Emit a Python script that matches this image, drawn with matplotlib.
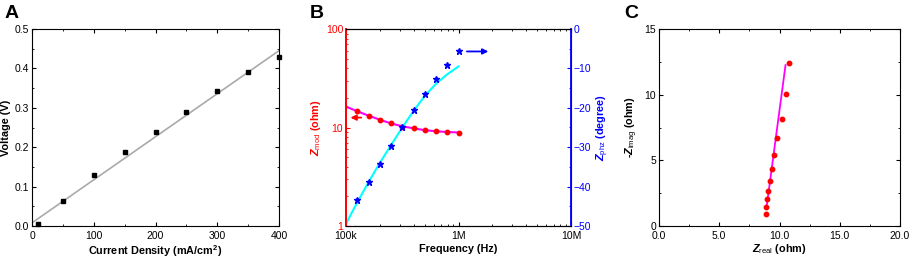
import numpy as np
import matplotlib
matplotlib.use("Agg")
from matplotlib import pyplot
from matplotlib.ticker import FixedLocator, NullFormatter

pyplot.rcParams['font.family'] = ['Liberation Sans', 'DejaVu Sans']
pyplot.rcParams['mathtext.fontset'] = 'custom'
pyplot.rcParams['mathtext.rm'] = 'Liberation Sans'
pyplot.rcParams['mathtext.bf'] = 'Liberation Sans:bold'
pyplot.rcParams['mathtext.it'] = 'Liberation Sans:bold:italic'

# panel A: polarization
current_density = [10, 50, 100, 150, 200, 250, 300, 350, 400]
voltage = [0.005, 0.063, 0.130, 0.187, 0.238, 0.290, 0.343, 0.390, 0.428]
fit_current = [0, 400]
fit_voltage = [0.008, 0.445]

# panel B: bode
freq = [10 ** 5.1, 10 ** 5.2, 10 ** 5.3, 10 ** 5.4, 10 ** 5.5,
        10 ** 5.6, 10 ** 5.7, 10 ** 5.8, 10 ** 5.9, 10 ** 6.0]
z_mod = [14.7, 13.1, 11.9, 11.0, 10.2, 9.8, 9.4, 9.2, 9.0, 8.85]
z_phz = [-43.5, -38.8, -34.3, -29.6, -25.0, -20.5, -16.6, -12.7, -9.1, -5.7]
fit_freq = [1e5] + freq
fit_mod = [16.3, 14.6, 13.2, 12.0, 11.0, 10.3, 9.8, 9.4, 9.15, 9.0, 8.9]
fit_phz = [-49.4, -44.0, -38.9, -34.0, -29.5, -25.0, -20.8, -17.0, -13.9, -11.5, -9.5]

# panel C: nyquist
z_real = [8.84, 8.86, 8.95, 9.06, 9.20, 9.36, 9.58, 9.83, 10.19, 10.53, 10.78]
z_imag = [0.89, 1.43, 2.04, 2.70, 3.46, 4.33, 5.42, 6.70, 8.17, 10.03, 12.38]
fit_real = [8.92, 10.50]
fit_imag = [1.40, 12.25]

W, H = 913, 260
fig = pyplot.figure(figsize=(W / 100, H / 100), dpi=100)


def make_ax(left, right, top=29, bottom=226):
    return fig.add_axes([left / W, 1 - bottom / H, (right - left) / W, (bottom - top) / H])


tick_fs = 7.5
label_fs = 7.8

# ---- A
ax = make_ax(32, 279)
ax.plot(fit_current, fit_voltage, color='#aaaaaa', lw=1.2, zorder=2)
ax.plot(current_density, voltage, 's', color='black', ms=2.8, zorder=3, clip_on=False)
ax.set_xlim(0, 400)
ax.set_ylim(0, 0.5)
ax.set_xticks([0, 100, 200, 300, 400])
ax.set_yticks([0.0, 0.1, 0.2, 0.3, 0.4, 0.5])
ax.set_yticklabels(['0.0', '0.1', '0.2', '0.3', '0.4', '0.5'])
ax.xaxis.set_minor_locator(FixedLocator([50, 150, 250, 350]))
ax.yaxis.set_minor_locator(FixedLocator([0.05, 0.15, 0.25, 0.35, 0.45]))
ax.tick_params(which='both', direction='in', top=True, right=True, labelsize=tick_fs, pad=2)
ax.tick_params(axis='x', pad=3.5)
ax.tick_params(which='major', length=3)
ax.tick_params(which='minor', length=1.5)
ax.set_xlabel('Current Density (mA/cm$^{\\mathbf{2}}$)', fontsize=label_fs, fontweight='bold', labelpad=2)
ax.set_ylabel('Voltage (V)', fontsize=label_fs, fontweight='bold', labelpad=3)
fig.text(5 / W, 1 - 14 / H, 'A', fontsize=14, fontweight='bold', va='center', ha='left')

# ---- B
ax = make_ax(346, 571)
ax2 = ax.twinx()
ax.plot(fit_freq, fit_mod, color='magenta', lw=1.5, zorder=2)
ax.plot(freq, z_mod, 'o', color='red', ms=3.2, zorder=3)
ax.set_xscale('log')
ax.set_yscale('log')
ax.set_xlim(1e5, 1e7)
ax.set_ylim(1, 100)
ax.set_xticks([1e5, 1e6, 1e7])
ax.set_xticklabels(['100k', '1M', '10M'])
ax.set_yticks([1, 10, 100])
ax.set_yticklabels(['1', '10', '100'])
ax.yaxis.set_minor_formatter(NullFormatter())
ax.xaxis.set_minor_formatter(NullFormatter())
ax.tick_params(which='both', direction='in', top=True, labelsize=tick_fs, pad=2)
ax.tick_params(axis='x', pad=3.5)
ax.tick_params(axis='y', which='both', colors='red')
ax.tick_params(which='major', length=3)
ax.tick_params(which='minor', length=1.5)
ax.spines['left'].set_color('red')
ax.spines['left'].set_linewidth(1.3)
ax.set_xlabel('Frequency (Hz)', fontsize=label_fs, fontweight='bold', labelpad=2)
ax.set_ylabel('$\\mathit{Z}_{\\mathrm{mod}}$ (ohm)', fontsize=label_fs, fontweight='bold', color='red', labelpad=2)
ax.annotate('', xy=(10 ** 5.015, 12.6), xytext=(10 ** 5.16, 12.6),
            arrowprops=dict(arrowstyle='-|>', color='red', lw=1.3, mutation_scale=8))

ax2.plot(fit_freq, fit_phz, color='cyan', lw=1.5, zorder=2)
ax2.plot(freq, z_phz, '*', color='blue', ms=5, zorder=3)
ax2.set_ylim(-50, 0)
ax2.set_yticks([-50, -40, -30, -20, -10, 0])
ax2.yaxis.set_minor_locator(FixedLocator([-45, -35, -25, -15, -5]))
ax2.tick_params(which='both', direction='in', colors='blue', labelsize=tick_fs, pad=2)
ax2.tick_params(which='major', length=3)
ax2.tick_params(which='minor', length=1.5)
ax2.spines['right'].set_color('blue')
ax2.spines['right'].set_linewidth(1.3)
ax2.spines['left'].set_color('red')
ax2.spines['left'].set_linewidth(1.3)
ax2.set_ylabel('$\\mathit{Z}_{\\mathrm{phz}}$ (degree)', fontsize=label_fs, fontweight='bold', color='blue', labelpad=2)
ax2.annotate('', xy=(10 ** 6.29, -5.7), xytext=(10 ** 6.05, -5.7),
             arrowprops=dict(arrowstyle='-|>', color='blue', lw=1.3, mutation_scale=8))
fig.text(310 / W, 1 - 14 / H, 'B', fontsize=14, fontweight='bold', va='center', ha='left')

# ---- C
ax = make_ax(659, 900)
ax.plot(fit_real, fit_imag, color='magenta', lw=1.3, zorder=2)
ax.plot(z_real, z_imag, 'o', color='red', ms=3.2, zorder=3)
ax.set_xlim(0, 20)
ax.set_ylim(0, 15)
ax.set_xticks([0, 5, 10, 15, 20])
ax.set_xticklabels(['0.0', '5.0', '10.0', '15.0', '20.0'])
ax.set_yticks([0, 5, 10, 15])
ax.xaxis.set_minor_locator(FixedLocator([2.5, 7.5, 12.5, 17.5]))
ax.yaxis.set_minor_locator(FixedLocator([2.5, 7.5, 12.5]))
ax.tick_params(which='both', direction='in', top=True, right=True, labelsize=tick_fs, pad=2)
ax.tick_params(axis='x', pad=3.5)
ax.tick_params(which='major', length=3)
ax.tick_params(which='minor', length=1.5)
ax.set_xlabel('$\\mathit{Z}_{\\mathrm{real}}$ (ohm)', fontsize=label_fs, fontweight='bold', labelpad=1)
ax.set_ylabel('-$\\mathit{Z}_{\\mathrm{imag}}$ (ohm)', fontsize=label_fs, fontweight='bold', labelpad=3)
fig.text(624 / W, 1 - 14 / H, 'C', fontsize=14, fontweight='bold', va='center', ha='left')

fig.savefig('out.png', dpi=100)
